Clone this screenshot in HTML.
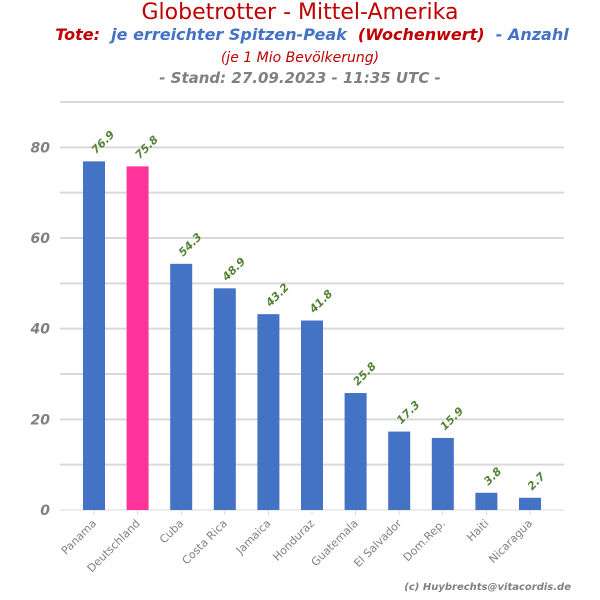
<!DOCTYPE html>
<html><head><meta charset="utf-8"><style>
body{margin:0;background:#fff;}
svg{display:block;font-family:"DejaVu Sans","Liberation Sans",sans-serif;}
</style></head><body>
<svg id="chart" width="600" height="600">
<text x="300" y="19" text-anchor="middle" font-size="22" fill="#c00000">Globetrotter - Mittel-Amerika</text>
<text x="312" y="40" text-anchor="middle" font-size="16" font-weight="bold" font-style="italic" style="white-space:pre"><tspan fill="#c00000">Tote:</tspan><tspan fill="#4472c4">  je erreichter Spitzen-Peak  </tspan><tspan fill="#c00000">(Wochenwert)</tspan><tspan fill="#4472c4">  - Anzahl</tspan></text>
<text x="300" y="62" text-anchor="middle" font-size="14" font-style="italic" fill="#c00000">(je 1 Mio Bevölkerung)</text>
<text x="300" y="83" text-anchor="middle" font-size="15" font-weight="bold" font-style="italic" fill="#808080">- Stand: 27.09.2023 - 11:35 UTC -</text>
<g id="grid"></g><g id="bars"></g><g id="labels"></g>
<text x="571" y="590" text-anchor="end" font-size="10" font-weight="bold" font-style="italic" fill="#808080">(c) Huybrechts@vitacordis.de</text>
</svg>
<script>
const categories=["Panama","Deutschland","Cuba","Costa Rica","Jamaica","Honduraz","Guatemala","El Salvador","Dom.Rep.","Haiti","Nicaragua"];
const values=[76.9,75.8,54.3,48.9,43.2,41.8,25.8,17.3,15.9,3.8,2.7];
const highlight=["Deutschland"];
const yTicks=[0,20,40,60,80];
const yMax=90;
const NS="http://www.w3.org/2000/svg";
const L=60,R=564,B=510,T=102;
const y=v=>B-(v/yMax)*(B-T);
const step=43.6;
const x=i=>94+i*step;
function mk(t,a,p){const e=document.createElementNS(NS,t);for(const k in a)e.setAttribute(k,a[k]);p.appendChild(e);return e;}
const grid=document.getElementById('grid'),bars=document.getElementById('bars'),labels=document.getElementById('labels');
for(let v=10;v<=yMax;v+=10){
 const g=mk('line',{x1:L,x2:R,y1:y(v),y2:y(v),stroke:'#d9d9d9','stroke-width':2},grid);
 
 
}
const ax=mk('line',{x1:L,x2:R,y1:B,y2:B,stroke:'#d9d9d9','stroke-width':1},grid);


yTicks.forEach(v=>{
 const t=mk('text',{x:50,y:y(v)+5,'text-anchor':'end','font-size':14,'font-weight':'bold','font-style':'italic',fill:'#808080'},labels);
 t.textContent=v;
 
 
});
categories.forEach((c,i)=>{
 const v=values[i],cx=x(i);
 const r=mk('rect',{x:cx-11,y:y(v),width:22,height:B-y(v),fill:highlight.includes(c)?'#ff3399':'#4472c4'},bars);
 
 
 const tk=mk('line',{x1:cx,x2:cx,y1:B,y2:B+5,stroke:'#d9d9d9'},grid);
 
 
 const vl=mk('text',{x:cx+2,y:y(v)-7,'font-size':11,'font-weight':'bold','font-style':'italic',fill:'#548235',transform:`rotate(-45 ${cx+2} ${y(v)-7})`},labels);
 vl.textContent=v.toFixed(1);
 
 
 const xl=mk('text',{x:cx+3,y:B+14,'text-anchor':'end','font-size':11,fill:'#808080',transform:`rotate(-45 ${cx+3} ${B+14})`},labels);
 xl.textContent=c;
 
 
});
</script>
</body></html>
